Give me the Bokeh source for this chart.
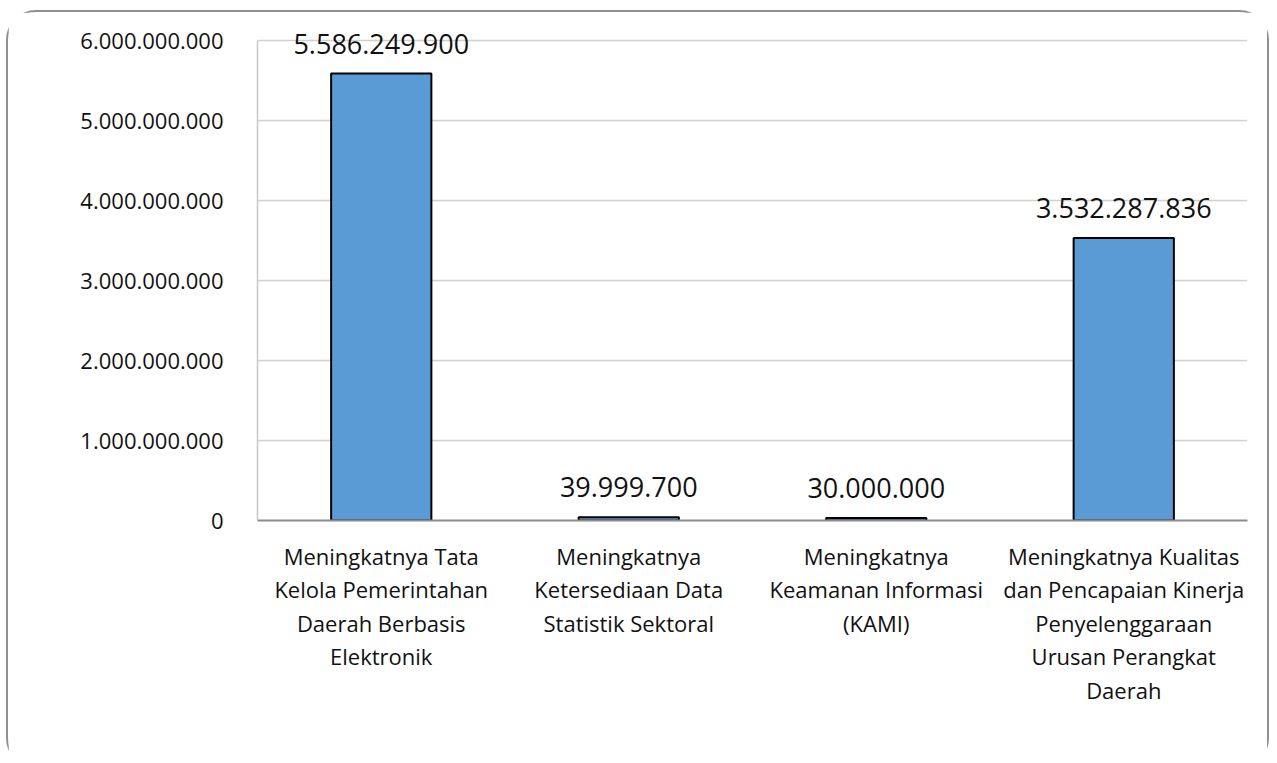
from bokeh.plotting import figure
from bokeh.models import ColumnDataSource, Label, FixedTicker, Range1d
from bokeh.embed import file_html
from bokeh.resources import INLINE

categories = [
    "Meningkatnya Tata\nKelola Pemerintahan\nDaerah Berbasis\nElektronik",
    "Meningkatnya\nKetersediaan Data\nStatistik Sektoral",
    "Meningkatnya\nKeamanan Informasi\n(KAMI)",
    "Meningkatnya Kualitas\ndan Pencapaian Kinerja\nPenyelenggaraan\nUrusan Perangkat\nDaerah",
]
values = [5586249900, 39999700, 30000000, 3532287836]
value_labels = ["5.586.249.900", "39.999.700", "30.000.000", "3.532.287.836"]
y_ticks = [0, 1000000000, 2000000000, 3000000000, 4000000000, 5000000000, 6000000000]
y_tick_labels = ["0", "1.000.000.000", "2.000.000.000", "3.000.000.000",
                 "4.000.000.000", "5.000.000.000", "6.000.000.000"]

FONT = "Open Sans"

src = ColumnDataSource(dict(cat=categories, val=values, lab=value_labels))

# extra headroom above the top tick so the top value label is not clipped
p = figure(x_range=categories, width=1263, height=758, output_backend="svg",
           toolbar_location=None, min_border_left=249, min_border_right=24,
           min_border_top=4, min_border_bottom=250)
p.margin = (10, 0, 0, 6)
p.y_range = Range1d(0, y_ticks[-1] * 1.05)
p.styles = {"border": "2px solid #8f8f8f", "border-radius": "30px"}
p.outline_line_color = None

p.vbar(x="cat", top="val", width=0.405, source=src, fill_color="#5b9bd5",
       line_color="#000000", line_width=2)

# value labels: categorical synthetic coordinate of each factor's centre
for i, (v, t) in enumerate(zip(values, value_labels)):
    p.add_layout(Label(x=i + 0.5, y=v, text=t, text_align="center",
                       text_baseline="alphabetic", y_offset=30, text_font=FONT,
                       text_font_size="27px", text_color="#111111"))

p.yaxis.ticker = FixedTicker(ticks=y_ticks)
p.yaxis.bounds = (y_ticks[0], y_ticks[-1])
p.yaxis.major_label_overrides = {t: l for t, l in zip(y_ticks, y_tick_labels)}
p.yaxis.major_label_text_font = FONT
p.yaxis.major_label_text_font_size = "22px"
p.yaxis.major_label_text_color = "#111111"
p.yaxis.major_label_standoff = 28
p.yaxis.major_tick_line_color = None
p.yaxis.minor_tick_line_color = None
p.yaxis.axis_line_color = "#c8c8c8"
p.yaxis.axis_line_width = 1.5

p.xaxis.major_label_text_font = FONT
p.xaxis.major_label_text_font_size = "22px"
p.xaxis.major_label_text_color = "#111111"
p.xaxis.major_label_text_line_height = 1.12
p.xaxis.major_label_standoff = 14
p.xaxis.major_tick_line_color = None
p.xaxis.axis_line_color = "#8c8c8c"
p.xaxis.axis_line_width = 2

p.xgrid.grid_line_color = None
p.ygrid.grid_line_color = "#d0d0d0"
p.ygrid.grid_line_width = 1.5

open("out.html", "w").write(file_html(p, INLINE))
